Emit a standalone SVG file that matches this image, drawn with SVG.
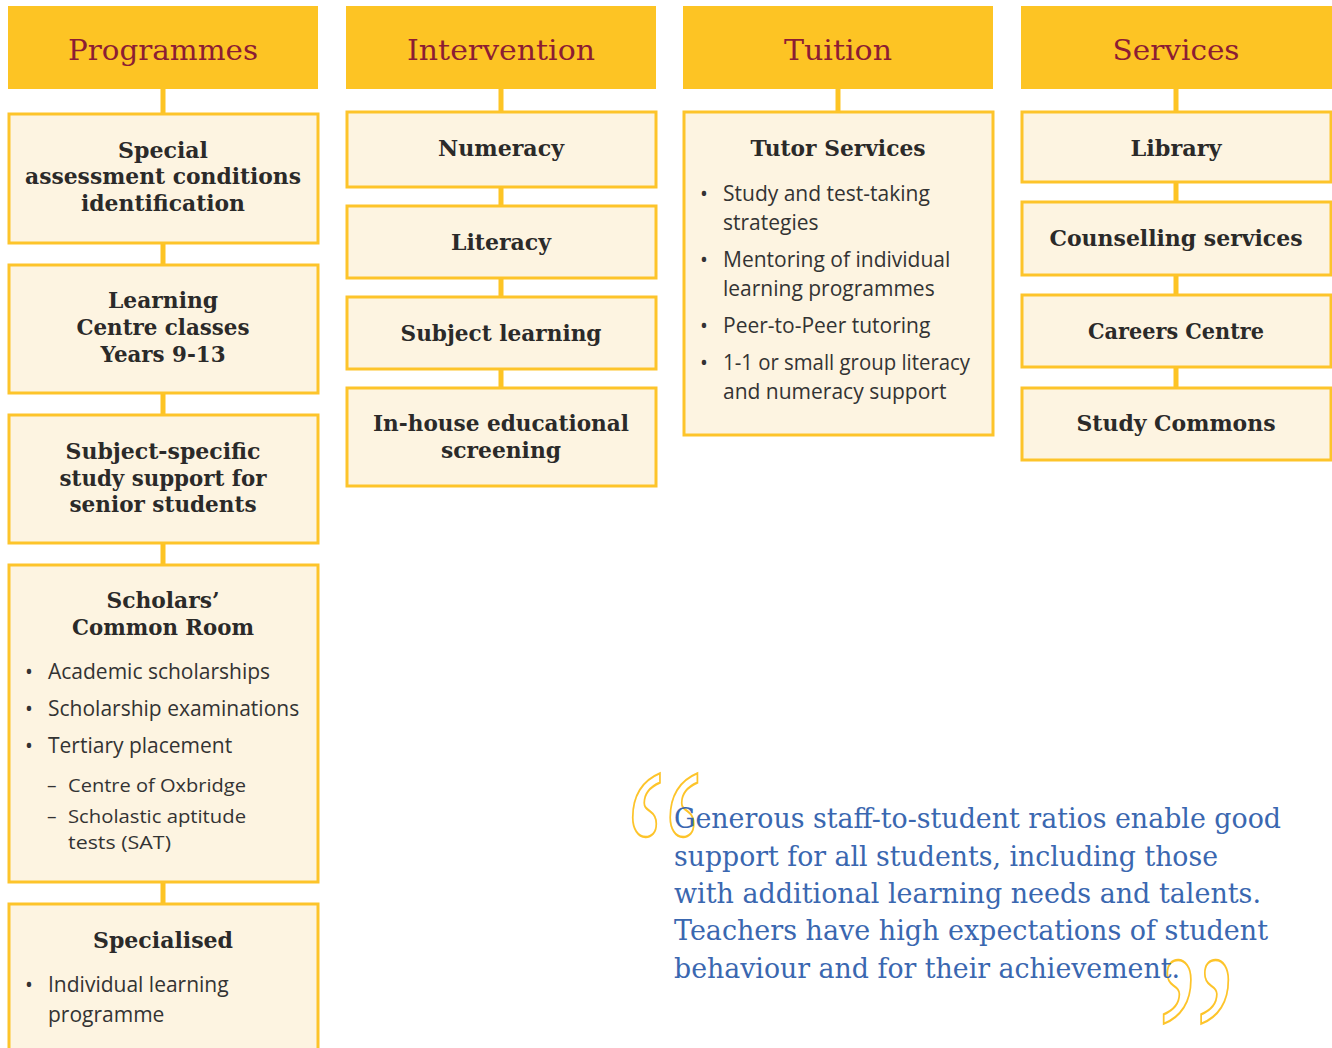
<svg xmlns="http://www.w3.org/2000/svg" width="1332" height="1048" viewBox="0 0 1332 1048">
<style>
.hd{fill:#FDC424}
.bx{fill:#FDF4E1;stroke:#FDC42A;stroke-width:3}
.ht{font-family:"DejaVu Serif","Liberation Serif",serif;font-size:28px;fill:#8C1D33;text-anchor:middle}
.bt{font-family:"DejaVu Serif","Liberation Serif",serif;font-size:22px;font-weight:bold;fill:#2B2A29;text-anchor:middle}
.tx{font-family:"Open Sans","Liberation Sans",sans-serif;font-size:21px;fill:#333333}
.sx{font-family:"Open Sans","Liberation Sans",sans-serif;font-size:19px;fill:#333333}
.qt{font-family:"DejaVu Serif","Liberation Serif",serif;font-size:28px;fill:#3A67B0}
.qm{font-family:"Liberation Serif",serif;font-size:247px;fill:none;stroke:#FDC42A;stroke-width:2}
.cn{stroke:#FDC424;stroke-width:5;fill:none}
</style>
<rect width="1332" height="1048" fill="#FFFFFF"/>
<g id="connectors">
<path class="cn" d="M163 89V114M163 243V265M163 393V415M163 543V565M163 882V904"/>
<path class="cn" d="M501 89V112M501 187V206M501 278V297M501 369V388"/>
<path class="cn" d="M838 89V112"/>
<path class="cn" d="M1176 89V112M1176 182V202M1176 275V295M1176 367V388"/>
</g>
<g id="h-programmes"><rect class="hd" x="8" y="6" width="310" height="83"/><text class="ht" x="163" y="60" textLength="190" lengthAdjust="spacingAndGlyphs">Programmes</text></g>
<g id="h-intervention"><rect class="hd" x="346" y="6" width="310" height="83"/><text class="ht" x="501" y="60" textLength="188" lengthAdjust="spacingAndGlyphs">Intervention</text></g>
<g id="h-tuition"><rect class="hd" x="683" y="6" width="310" height="83"/><text class="ht" x="838" y="60" textLength="108" lengthAdjust="spacingAndGlyphs">Tuition</text></g>
<g id="h-services"><rect class="hd" x="1021" y="6" width="311" height="83"/><text class="ht" x="1176" y="60" textLength="127" lengthAdjust="spacingAndGlyphs">Services</text></g>

<g id="n-special"><rect class="bx" x="9" y="114" width="309" height="129"/>
<text class="bt" x="163" y="158" textLength="90" lengthAdjust="spacingAndGlyphs">Special</text>
<text class="bt" x="163" y="184" textLength="276" lengthAdjust="spacingAndGlyphs">assessment conditions</text>
<text class="bt" x="163" y="211" textLength="164" lengthAdjust="spacingAndGlyphs">identification</text></g>
<g id="n-learning"><rect class="bx" x="9" y="265" width="309" height="128"/>
<text class="bt" x="163" y="308" textLength="110" lengthAdjust="spacingAndGlyphs">Learning</text>
<text class="bt" x="163" y="335" textLength="173" lengthAdjust="spacingAndGlyphs">Centre classes</text>
<text class="bt" x="163" y="362" textLength="125" lengthAdjust="spacingAndGlyphs">Years 9-13</text></g>
<g id="n-subject-specific"><rect class="bx" x="9" y="415" width="309" height="128"/>
<text class="bt" x="163" y="459" textLength="195" lengthAdjust="spacingAndGlyphs">Subject-specific</text>
<text class="bt" x="163" y="486" textLength="207" lengthAdjust="spacingAndGlyphs">study support for</text>
<text class="bt" x="163" y="512" textLength="187" lengthAdjust="spacingAndGlyphs">senior students</text></g>
<g id="n-scholars"><rect class="bx" x="9" y="565" width="309" height="317"/>
<text class="bt" x="163" y="608" textLength="113" lengthAdjust="spacingAndGlyphs">Scholars’</text>
<text class="bt" x="163" y="635" textLength="182" lengthAdjust="spacingAndGlyphs">Common Room</text>
<text class="tx" x="25" y="679">•</text><text class="tx" x="48" y="679">Academic scholarships</text>
<text class="tx" x="25" y="716">•</text><text class="tx" x="48" y="716">Scholarship examinations</text>
<text class="tx" x="25" y="753">•</text><text class="tx" x="48" y="753">Tertiary placement</text>
<text class="sx" x="47" y="792">–</text><text class="sx" x="68" y="792" textLength="178" lengthAdjust="spacingAndGlyphs">Centre of Oxbridge</text>
<text class="sx" x="47" y="823">–</text><text class="sx" x="68" y="823" textLength="178" lengthAdjust="spacingAndGlyphs">Scholastic aptitude</text>
<text class="sx" x="68" y="849" textLength="103" lengthAdjust="spacingAndGlyphs">tests (SAT)</text></g>
<g id="n-specialised"><rect class="bx" x="9" y="904" width="309" height="160"/>
<text class="bt" x="163" y="948" textLength="140" lengthAdjust="spacingAndGlyphs">Specialised</text>
<text class="tx" x="25" y="992">•</text><text class="tx" x="48" y="992">Individual learning</text>
<text class="tx" x="48" y="1022">programme</text></g>

<g id="n-numeracy"><rect class="bx" x="347" y="112" width="309" height="75"/>
<text class="bt" x="501" y="156" textLength="126" lengthAdjust="spacingAndGlyphs">Numeracy</text></g>
<g id="n-literacy"><rect class="bx" x="347" y="206" width="309" height="72"/>
<text class="bt" x="501" y="250" textLength="100" lengthAdjust="spacingAndGlyphs">Literacy</text></g>
<g id="n-subject-learning"><rect class="bx" x="347" y="297" width="309" height="72"/>
<text class="bt" x="501" y="341" textLength="201" lengthAdjust="spacingAndGlyphs">Subject learning</text></g>
<g id="n-inhouse"><rect class="bx" x="347" y="388" width="309" height="98"/>
<text class="bt" x="501" y="431" textLength="256" lengthAdjust="spacingAndGlyphs">In-house educational</text>
<text class="bt" x="501" y="458" textLength="120" lengthAdjust="spacingAndGlyphs">screening</text></g>

<g id="n-tutor"><rect class="bx" x="684" y="112" width="309" height="323"/>
<text class="bt" x="838" y="156" textLength="175" lengthAdjust="spacingAndGlyphs">Tutor Services</text>
<text class="tx" x="700" y="201">•</text><text class="tx" x="723" y="201">Study and test-taking</text>
<text class="tx" x="723" y="230">strategies</text>
<text class="tx" x="700" y="267">•</text><text class="tx" x="723" y="267">Mentoring of individual</text>
<text class="tx" x="723" y="296">learning programmes</text>
<text class="tx" x="700" y="333">•</text><text class="tx" x="723" y="333">Peer-to-Peer tutoring</text>
<text class="tx" x="700" y="370">•</text><text class="tx" x="723" y="370" textLength="247" lengthAdjust="spacingAndGlyphs">1-1 or small group literacy</text>
<text class="tx" x="723" y="399">and numeracy support</text></g>

<g id="n-library"><rect class="bx" x="1022" y="112" width="309" height="70"/>
<text class="bt" x="1176" y="156" textLength="91" lengthAdjust="spacingAndGlyphs">Library</text></g>
<g id="n-counselling"><rect class="bx" x="1022" y="202" width="309" height="73"/>
<text class="bt" x="1176" y="246" textLength="253" lengthAdjust="spacingAndGlyphs">Counselling services</text></g>
<g id="n-careers"><rect class="bx" x="1022" y="295" width="309" height="72"/>
<text class="bt" x="1176" y="339" textLength="176" lengthAdjust="spacingAndGlyphs">Careers Centre</text></g>
<g id="n-study-commons"><rect class="bx" x="1022" y="388" width="309" height="72"/>
<text class="bt" x="1176" y="431" textLength="199" lengthAdjust="spacingAndGlyphs">Study Commons</text></g>

<g id="quote">
<text class="qm" transform="translate(624,939) scale(0.74,1)" vector-effect="non-scaling-stroke">“</text>
<text class="qm" transform="translate(1156,1125) scale(0.74,1)" vector-effect="non-scaling-stroke">”</text>
<text class="qt" x="674" y="828" textLength="607" lengthAdjust="spacingAndGlyphs">Generous staff-to-student ratios enable good</text>
<text class="qt" x="674" y="866" textLength="544" lengthAdjust="spacingAndGlyphs">support for all students, including those</text>
<text class="qt" x="674" y="903" textLength="587" lengthAdjust="spacingAndGlyphs">with additional learning needs and talents.</text>
<text class="qt" x="674" y="940" textLength="594" lengthAdjust="spacingAndGlyphs">Teachers have high expectations of student</text>
<text class="qt" x="674" y="978" textLength="506" lengthAdjust="spacingAndGlyphs">behaviour and for their achievement.</text>
</g>
</svg>
